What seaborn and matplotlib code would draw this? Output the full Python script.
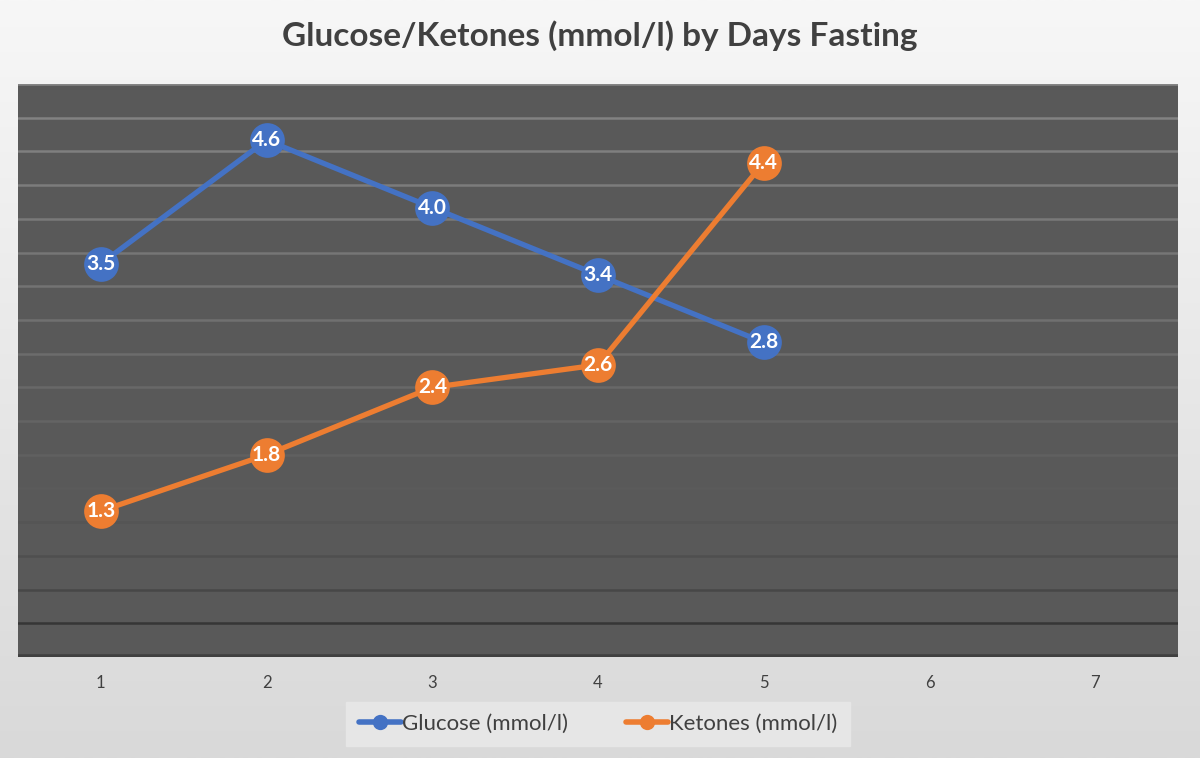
import numpy as np
import pandas as pd
import matplotlib
matplotlib.use("Agg")
import matplotlib.pyplot as plt
import seaborn as sns
from matplotlib.colors import to_rgb

days = [1, 2, 3, 4, 5]
glucose = [3.5, 4.6, 4.0, 3.4, 2.8]
ketones = [1.3, 1.8, 2.4, 2.6, 4.4]
series_names = ["Glucose (mmol/l)", "Ketones (mmol/l)"]
x_ticks = [1, 2, 3, 4, 5, 6, 7]
title = "Glucose/Ketones (mmol/l) by Days Fasting"

df = pd.DataFrame({
    "day": days * 2,
    "value": glucose + ketones,
    "series": [series_names[0]] * len(days) + [series_names[1]] * len(days),
})

sns.set_theme(style="dark")
plt.rcParams["font.family"] = ["Lato", "DejaVu Sans"]

fig = plt.figure(figsize=(12, 7.58), dpi=100)

# background gradient
bg = fig.add_axes([0, 0, 1, 1], zorder=-10)
grad = np.linspace(0, 1, 256).reshape(-1, 1)
top_c = np.array(to_rgb("#f7f7f7"))
bot_c = np.array(to_rgb("#d9d9d9"))
img = top_c[None, None, :] * (1 - grad[:, :, None]) + bot_c[None, None, :] * grad[:, :, None]
bg.imshow(img, aspect="auto", extent=[0, 1, 0, 1])
bg.axis("off")

ax = fig.add_axes([0.015, 0.1332, 0.9667, 0.756])
ax.set_facecolor("#595959")

palette = {series_names[0]: "#4472C4", series_names[1]: "#ED7D31"}
sns.lineplot(data=df, x="day", y="value", hue="series", palette=palette,
             marker="o", markersize=25, linewidth=3.8, markeredgewidth=0,
             ax=ax, zorder=5, legend=False)

ax.set_xlim(0.5, 7.5)
ax.set_ylim(0, 5.1)
ax.set_xticks(x_ticks)
ax.set_xticklabels([str(t) for t in x_ticks], fontsize=12, color="#404040")
ax.set_yticks([])
ax.tick_params(axis="x", length=0, pad=13)
ax.set_xlabel("")
ax.set_ylabel("")
for s in ax.spines.values():
    s.set_visible(False)

# gridlines with gradient colour (light at top, dark at bottom)
levels = np.round(np.arange(0.3, 5.11, 0.3), 2)
light = np.array(to_rgb("#858585"))
dark = np.array(to_rgb("#363636"))
for lv in levels:
    t = (lv - 0.3) / (5.1 - 0.3)
    t = t ** 0.55
    c = dark * (1 - t) + light * t
    ax.axhline(lv, color=c, linewidth=1.8, zorder=1)
ax.axhline(0, color="#404040", linewidth=4, zorder=2)

# data labels
for vals in (glucose, ketones):
    for d, v in zip(days, vals):
        ax.text(d, v, f"{v:.1f}", ha="center", va="center", color="white",
                fontsize=15, fontweight="bold", zorder=10)

fig.text(0.5, 0.953, title, ha="center", va="center", fontsize=24,
         fontweight="bold", color="#404040")

# legend
from matplotlib.lines import Line2D
handles = [Line2D([0], [0], color=palette[n], linewidth=4, marker="o",
                  markersize=11, markeredgewidth=0) for n in series_names]
leg = fig.legend(handles, series_names, loc="center", bbox_to_anchor=(0.4983, 0.0445),
                 ncol=2, frameon=True, fontsize=16, handlelength=1.9,
                 handletextpad=0.05, columnspacing=2.6, borderpad=0.55,
                 fancybox=False, edgecolor="#e6e6e6", facecolor="#e6e6e6")
leg.get_frame().set_alpha(1)
for t in leg.get_texts():
    t.set_color("#404040")

fig.savefig("out.png", dpi=100)
